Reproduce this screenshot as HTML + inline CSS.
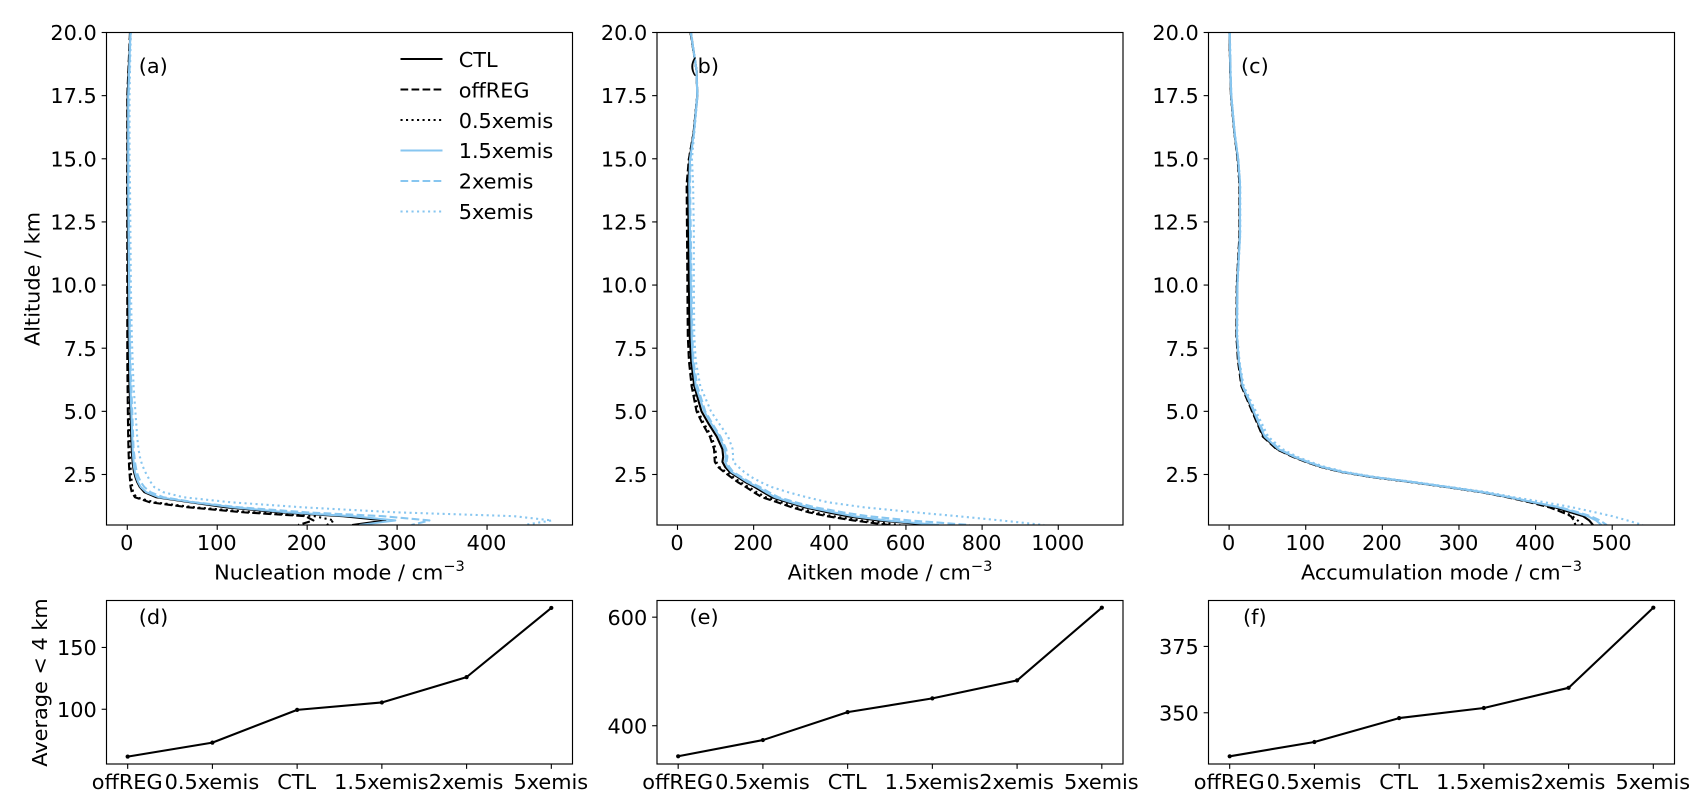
<!DOCTYPE html>
<html lang="en">
<head>
<meta charset="utf-8">
<title>Aerosol number concentration profiles</title>
<style>
  html,body{margin:0;padding:0;background:#fff;width:1706px;height:810px;overflow:hidden}
  svg{display:block}
  text{font-family:"DejaVu Sans","Liberation Sans",sans-serif;font-size:20.83px;fill:#000}
</style>
</head>
<body>
<svg id="figure" xmlns="http://www.w3.org/2000/svg" width="1706" height="810" viewBox="0 0 1706 810">
  <defs>
    <clipPath id="clip-a"><rect x="106.5" y="32.5" width="466" height="492.5"/></clipPath>
    <clipPath id="clip-b"><rect x="657" y="32.5" width="466" height="492.5"/></clipPath>
    <clipPath id="clip-c"><rect x="1208.5" y="32.5" width="466" height="492.5"/></clipPath>
  </defs>
  <rect width="1706" height="810" fill="#fff"/>
  <g id="marks"></g>

  <rect x="106.5" y="32.5" width="466" height="492.5" fill="none" stroke="#000" stroke-width="1.15"/>
  <rect x="657" y="32.5" width="466" height="492.5" fill="none" stroke="#000" stroke-width="1.15"/>
  <rect x="1208.5" y="32.5" width="466" height="492.5" fill="none" stroke="#000" stroke-width="1.15"/>
  <rect x="106.5" y="600.5" width="466" height="163.5" fill="none" stroke="#000" stroke-width="1.15"/>
  <rect x="657" y="600.5" width="466" height="163.5" fill="none" stroke="#000" stroke-width="1.15"/>
  <rect x="1208.5" y="600.5" width="466" height="163.5" fill="none" stroke="#000" stroke-width="1.15"/>

  <text x="138.8" y="73">(a)</text>
  <text x="689.5" y="73">(b)</text>
  <text x="1241" y="73">(c)</text>
  <text x="138.8" y="624">(d)</text>
  <text x="689.5" y="624">(e)</text>
  <text x="1243" y="624">(f)</text>

  <text x="339.5" y="579.5" text-anchor="middle">Nucleation mode / cm<tspan dy="-8.5" font-size="14.6">−3</tspan></text>
  <text x="890" y="579.5" text-anchor="middle">Aitken mode / cm<tspan dy="-8.5" font-size="14.6">−3</tspan></text>
  <text x="1441.5" y="579.5" text-anchor="middle">Accumulation mode / cm<tspan dy="-8.5" font-size="14.6">−3</tspan></text>
  <text transform="translate(39.5 279) rotate(-90)" text-anchor="middle">Altitude / km</text>
  <text transform="translate(46.8 682.5) rotate(-90)" text-anchor="middle">Average &lt; 4 km</text>

  <g>
    <line x1="400.5" x2="442.5" y1="59" y2="59" stroke="#000" stroke-width="2.08"/>
    <text x="458.7" y="67">CTL</text>
    <line x1="400.5" x2="442.5" y1="89.5" y2="89.5" stroke="#000" stroke-width="2.08" stroke-dasharray="7.7 3.33"/>
    <text x="458.7" y="97.3">offREG</text>
    <line x1="400.5" x2="442.5" y1="120" y2="120" stroke="#000" stroke-width="2.08" stroke-dasharray="2.08 3.43"/>
    <text x="458.7" y="127.8">0.5xemis</text>
    <line x1="400.5" x2="442.5" y1="150.5" y2="150.5" stroke="#87c6f0" stroke-width="2.08"/>
    <text x="458.7" y="158.2">1.5xemis</text>
    <line x1="400.5" x2="442.5" y1="181" y2="181" stroke="#87c6f0" stroke-width="2.08" stroke-dasharray="7.7 3.33"/>
    <text x="458.7" y="188.5">2xemis</text>
    <line x1="400.5" x2="442.5" y1="211.5" y2="211.5" stroke="#87c6f0" stroke-width="2.08" stroke-dasharray="2.08 3.43"/>
    <text x="458.7" y="219">5xemis</text>
  </g>
</svg>

<script>
// ---- shared categories and ticks ----
const altitudes = [20,18.5,17.5,16,15,14,12,10,8,7,6,5,4.5,4,3.5,3.2,3,2.8,2.6,2.4,2.2,2,1.8,1.6,1.4,1.2,1,0.85,0.68,0.5];
const categories = ['offREG','0.5xemis','CTL','1.5xemis','2xemis','5xemis'];
const altitudeTicks = [2.5,5,7.5,10,12.5,15,17.5,20];
const nucleationTicks = [0,100,200,300,400];
const aitkenTicks = [0,200,400,600,800,1000];
const accumulationTicks = [0,100,200,300,400,500];
const avgNucleationTicks = [100,150];
const avgAitkenTicks = [400,600];
const avgAccumulationTicks = [350,375];

// ---- nucleation mode profiles ----
const nucCTL =    [3.5,1.5,0.5,0.5,0.5,0.5,0.8,1,1.5,2,2.5,3.5,4,4.5,5,5.5,6,6.6,7.5,9,11,14,19,32,70,110,170,240,287,250];
const nucOffREG = [3,1.2,0,0,0,-0.2,0,0,0,0,0.3,0.6,0.8,1,1.3,1.6,1.8,2,2.4,2.8,3.2,3.7,5,8.5,25,68,130,198,207,190];
const nucHalf =   [3.2,1.3,0.2,0.2,0.2,0.1,0.2,0.3,0.5,0.7,1,1.5,2,2.3,2.6,3,3.3,3.6,4,4.5,5,5.5,6.5,10,30,75,142,208,230,222];
const nuc15 =     [3.5,2,1,1,1,1,1.5,2,2.5,3,3.5,4.5,5,5.5,6,6.5,7,7.5,8.5,10,12,15,21,35,73,118,178,250,298,258];
const nuc2 =      [3.5,2.5,1.5,1.5,1.5,1.5,2,2.5,3,3.5,4.5,5.5,6,6.5,7,8,8.5,9.5,10.5,12.5,15,19,26,40,75,125,200,284,336,316];
const nuc5 =      [4,3,2.5,2.5,2.5,3,3.5,4,5,6,7,9,10,11,12.5,14,15.5,17.5,20,23,26,30,40,62,115,195,300,430,472,441];

// ---- aitken mode profiles ----
const aitCTL =    [35,50,52,42,32,28,29,30,32,36,44,63,82,103,118,120,118,125,137,158,178,203,225,248,290,335,395,445,528,668];
const aitOffREG = [34,50,52,42,30,24,25,26,27,30,37,50,66,85,96,97,98,106,122,140,158,180,200,222,262,300,345,392,462,555];
const aitHalf =   [34,50,52,42,30,25,26,27,28,32,40,54,70,90,100,101,102,110,127,146,165,187,208,232,272,312,360,408,480,585];
const ait15 =     [35,50,52,43,33,31,33,35,37,40,48,70,89,110,124,127,125,131,142,163,184,210,232,256,298,345,410,462,548,687];
const ait2 =      [35,50,52,43,34,33,35,37,39,42,52,73,92,113,128,131,129,136,146,168,190,217,240,265,310,362,435,500,610,768];
const ait5 =      [36,50,53,44,38,41,43,43,44,48,60,88,110,133,145,146,146,160,175,194,218,248,290,339,395,490,625,735,850,963];

// ---- accumulation mode profiles ----
const accCTL =    [0.5,1.5,2.5,7,11.5,14,14,10.5,10,12.5,17,31,38,45,63,84,101,120,147,186,238,285,330,365,395,425,446,462,470,475];
const accOffREG = [0.5,1.5,2.5,7,11,13.5,13.5,10,9.5,11.5,16,30,37,44,62,83,100,119,146,185,237,284,329,363,392,418,435,446,450,452];
const accHalf =   [0.5,1.5,2.5,7,11,13.5,13.5,10,9.5,12,16.5,30,37.5,44.5,62.5,83.5,100.5,119.5,146.5,185.5,237.5,284.5,329.5,364,393,420,438,448,455,462];
const acc15 =     [0.7,1.7,2.7,7.2,11.7,14.2,14.2,10.7,10.2,12.7,17.5,32,39,46.5,64.5,85,102,121,148,187,239,286,331,366,397,430,452,468,479,486];
const acc2 =      [0.8,1.8,2.8,7.3,11.8,14.3,14.3,10.8,10.3,13,18,33,40,48,66,86,103,122,149,188,240,287,332,367,398,432,456,472,484,493];
const acc5 =      [1,2,3,7.5,12,14.5,14.5,11,10.7,13.5,19,35,43,51,70,89,106,125,152,191,243,290,337,372,412,448,478,500,520,540];

// ---- averages below 4 km ----
const avgNucleation = [61.7,73,99.5,105.5,126,182];
const avgAitken = [343.7,373.6,425,450.4,483.5,617.5];
const avgAccumulation = [333.6,339,348,351.8,359.4,389.6];

const SVGNS = 'http://www.w3.org/2000/svg';
const root = document.getElementById('marks');
const BLUE = '#87c6f0';
const DASH = '7.7 3.33';
const DOT = '2.08 3.43';
const TICK = 4.86;
const PAD = 4.86;

function make(tag, props, text) {
  const el = document.createElementNS(SVGNS, tag);
  for (const k in props) el.setAttribute(k, props[k]);
  if (text !== undefined) el.textContent = text;
  root.appendChild(el);
  return el;
}
function linear(d0, d1, r0, r1) {
  return v => r0 + (v - d0) * (r1 - r0) / (d1 - d0);
}
function xTick(sx, value, label, bottom, panel) {
  const x = sx(value);
  const t = make('line', {x1:x, x2:x, y1:bottom, y2:bottom + TICK, stroke:'#000', 'stroke-width':1.11});
  
  
  const l = make('text', {x:x - 0.5, y:bottom + TICK + PAD + 15.5, 'text-anchor':'middle'}, label);
  
  
}
function yTick(sy, value, label, left, panel) {
  const y = sy(value);
  const t = make('line', {x1:left - TICK, x2:left, y1:y, y2:y, stroke:'#000', 'stroke-width':1.11});
  
  
  const l = make('text', {x:left - TICK - PAD, y:y + 7.6, 'text-anchor':'end'}, label);
  
  
}

function profilePanel(panel, box, xlim, ticks, series) {
  const sx = linear(xlim[0], xlim[1], box.left, box.right);
  const sy = linear(0.5, 20, box.bottom, box.top);
  series.forEach(s => {
    const pts = altitudes.map((a, i) => sx(s.values[i]).toFixed(2) + ',' + sy(a).toFixed(2)).join(' ');
    const p = make('polyline', {points:pts, fill:'none', stroke:s.color, 'stroke-width':2.08, 'stroke-linejoin':'round', 'clip-path':'url(#clip-' + panel + ')'});
    if (s.dash) p.setAttribute('stroke-dasharray', s.dash);
    
    
  });
  ticks.forEach(v => xTick(sx, v, String(v), box.bottom, 'panel-' + panel));
  altitudeTicks.forEach(v => yTick(sy, v, v.toFixed(1), box.left, 'panel-' + panel));
}

function averagePanel(panel, box, ylim, ticks, values) {
  const sx = linear(-0.25, 5.25, box.left, box.right);
  const sy = linear(ylim[0], ylim[1], box.bottom, box.top);
  const pts = values.map((v, i) => sx(i).toFixed(2) + ',' + sy(v).toFixed(2)).join(' ');
  const p = make('polyline', {points:pts, fill:'none', stroke:'#000', 'stroke-width':2.08, 'stroke-linejoin':'round'});
  
  
  values.forEach((v, i) => {
    const c = make('circle', {cx:sx(i), cy:sy(v), r:2.1, fill:'#000'});
    
    
  });
  categories.forEach((c, i) => xTick(sx, i, c, box.bottom, 'panel-' + panel));
  ticks.forEach(v => yTick(sy, v, String(v), box.left, 'panel-' + panel));
}

function six(ctl, off, half, x15, x2, x5) {
  return [
    {name:'ctl', values:ctl, color:'#000', dash:''},
    {name:'offreg', values:off, color:'#000', dash:DASH},
    {name:'0-5xemis', values:half, color:'#000', dash:DOT},
    {name:'1-5xemis', values:x15, color:BLUE, dash:''},
    {name:'2xemis', values:x2, color:BLUE, dash:DASH},
    {name:'5xemis', values:x5, color:BLUE, dash:DOT}
  ];
}

profilePanel('a', {left:106.5, right:572.5, top:32.5, bottom:525}, [-23.1, 495], nucleationTicks, six(nucCTL, nucOffREG, nucHalf, nuc15, nuc2, nuc5));
profilePanel('b', {left:657, right:1123, top:32.5, bottom:525}, [-53.8, 1170], aitkenTicks, six(aitCTL, aitOffREG, aitHalf, ait15, ait2, ait5));
profilePanel('c', {left:1208.5, right:1674.5, top:32.5, bottom:525}, [-26.9, 581.3], accumulationTicks, six(accCTL, accOffREG, accHalf, acc15, acc2, acc5));

averagePanel('d', {left:106.5, right:572.5, top:600.5, bottom:764}, [55.7, 188], avgNucleationTicks, avgNucleation);
averagePanel('e', {left:657, right:1123, top:600.5, bottom:764}, [329.5, 630.7], avgAitkenTicks, avgAitken);
averagePanel('f', {left:1208.5, right:1674.5, top:600.5, bottom:764}, [330.7, 392.3], avgAccumulationTicks, avgAccumulation);
</script>
</body>
</html>
